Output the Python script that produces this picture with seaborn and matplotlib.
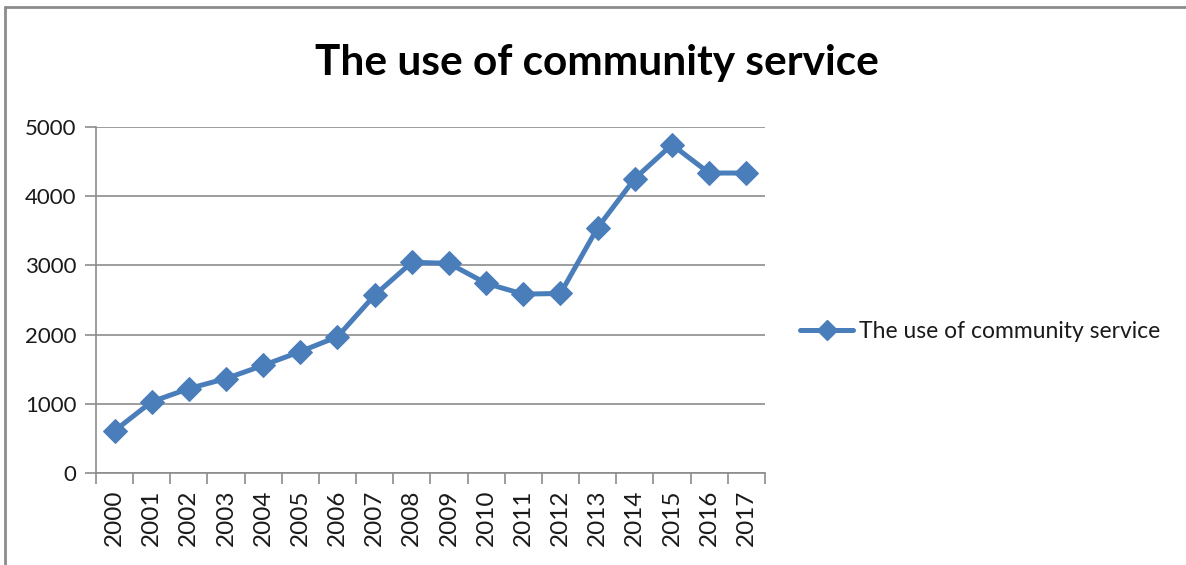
import matplotlib.pyplot as plt
import seaborn as sns
import pandas as pd
from matplotlib.lines import Line2D

years = list(range(2000, 2018))
usage = [610, 1030, 1220, 1365, 1555, 1755, 1970, 2570, 3045, 3030,
         2740, 2585, 2595, 3545, 4255, 4745, 4335, 4335]
series_name = "The use of community service"
title = "The use of community service"
yticks = [0, 1000, 2000, 3000, 4000, 5000]

df = pd.DataFrame({"year": years, "value": usage})

sns.set_style("white")
plt.rcParams["font.family"] = ["Lato", "DejaVu Sans"]

blue = "#4a7ebb"
grid_c = "#8c8c8c"
text_c = "#1a1a1a"

fig = plt.figure(figsize=(11.86, 5.65), dpi=100)
ax = fig.add_axes([0.0809, 0.1628, 0.5640, 0.6124])

sns.lineplot(data=df, x="year", y="value", ax=ax, color=blue, linewidth=3.6,
             marker="D", markersize=12, markeredgecolor=blue, label=series_name)

ax.set_xlim(years[0] - 0.5, years[-1] + 0.5)
ax.set_ylim(0, 5000)
ax.set_yticks(yticks)
ax.set_yticklabels([str(v) for v in yticks], fontsize=16, color=text_c)
ax.yaxis.grid(True, color=grid_c, linewidth=1.2)
ax.set_axisbelow(True)

# categories between tick marks, Excel style
ax.set_xticks(years)
ax.set_xticklabels([str(y) for y in years], rotation=90, fontsize=17.5, color=text_c)
ax.set_xticks([y - 0.5 for y in years] + [years[-1] + 0.5], minor=True)
ax.tick_params(axis="x", which="major", length=0, pad=12)
ax.tick_params(axis="x", which="minor", length=8, width=1.2, color=grid_c, direction="out", bottom=True)
ax.tick_params(axis="y", length=8, width=1.2, color=grid_c, direction="out", left=True, pad=6)

for s in ["top", "right"]:
    ax.spines[s].set_visible(False)
for s in ["left", "bottom"]:
    ax.spines[s].set_color(grid_c)
    ax.spines[s].set_linewidth(1.2)

ax.set_xlabel("")
ax.set_ylabel("")

handle = Line2D([], [], color=blue, linewidth=3.6, marker="D", markersize=10, markeredgecolor=blue)
ax.legend([handle], [series_name], loc="center left", bbox_to_anchor=(1.022, 0.41),
          frameon=False, fontsize=16.5, handlelength=2.3, handletextpad=0.25,
          labelcolor=text_c)

fig.text(0.503, 0.888, title, ha="center", va="center", fontsize=30.5,
         fontweight="bold", color="black")

# outer chart frame (left and top edges visible)
fig.add_artist(Line2D([0.0045, 0.0045], [0.0, 0.988], color="#8c8c8c", linewidth=2, transform=fig.transFigure))
fig.add_artist(Line2D([0.0045, 1.0], [0.988, 0.988], color="#8c8c8c", linewidth=2, transform=fig.transFigure))

fig.savefig("out.png", dpi=100)
